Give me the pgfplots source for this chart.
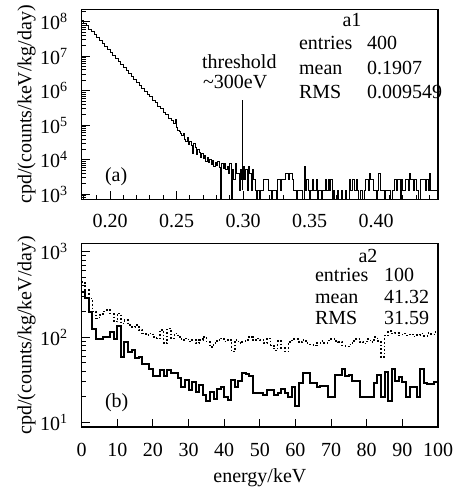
\documentclass[border=0pt]{standalone}
\usepackage{fontspec}
\setmainfont{Liberation Serif}
\usepackage{pgfplots}
\usepackage{pgfplotstable}
\pgfplotsset{compat=1.18}

\pgfplotstableread{
x y
0.178 1.12e8
0.180 9.2e7
0.182 7.6e7
0.184 6.1e7
0.186 5.1e7
0.188 4.2e7
0.190 3.4e7
0.192 2.85e7
0.194 2.3e7
0.196 1.9e7
0.198 1.55e7
0.200 1.26e7
0.202 1.05e7
0.204 8.5e6
0.206 7.1e6
0.208 5.7e6
0.210 4.8e6
0.212 3.85e6
0.214 3.2e6
0.216 2.6e6
0.218 2.15e6
0.220 1.75e6
0.222 1.45e6
0.224 1.17e6
0.226 9.8e5
0.228 7.9e5
0.230 6.6e5
0.232 5.3e5
0.234 4.5e5
0.236 3.6e5
0.238 3.0e5
0.240 2.4e5
0.242 2.0e5
0.244 1.6e5
0.246 1.35e5
0.248 1.15e5
0.249 1.5e5
0.250 8.5e4
0.251 7.2e4
0.252 6.5e4
0.253 5.6e4
0.254 5.0e4
0.255 5.8e4
0.256 4.0e4
0.257 3.4e4
0.258 4.5e4
0.259 2.8e4
0.260 3.3e4
0.261 2.6e4
0.262 1.5e4
0.263 3.0e4
0.264 2.2e4
0.265 1.4e4
0.266 2.0e4
0.267 1.6e4
0.268 1.2e4
0.269 1.5e4
0.270 1.1e4
0.271 1.3e4
0.272 9000
0.273 1.2e4
0.274 8500
0.275 1.0e4
0.276 7500
0.277 9500
0.278 6500
0.279 8500
0.280 7000
0.281 9000
0.282 6000
0.283 1
0.284 8000
0.285 5500
0.286 7800
0.287 5200
0.288 6500
0.289 3900
0.290 7800
0.291 1
0.292 5200
0.293 2600
0.294 7800
0.295 3900
0.296 3900
0.297 1300
0.298 5200
0.299 2600
0.300 6500
0.301 2600
0.302 5200
0.303 1300
0.304 6500
0.305 3900
0.306 1300
0.307 5200
0.308 2600
0.309 1300
0.310 1
0.311 1300
0.312 1
0.313 1300
0.314 1300
0.315 2600
0.316 2600
0.317 2600
0.318 2600
0.319 1300
0.320 1300
0.321 1
0.322 1300
0.323 1300
0.324 1300
0.325 1
0.326 2600
0.327 2600
0.328 1300
0.329 2600
0.330 2600
0.331 2600
0.332 3900
0.333 3900
0.334 2600
0.335 3900
0.336 3900
0.337 2600
0.338 1300
0.339 1300
0.340 1
0.341 1300
0.342 1300
0.343 1300
0.344 1300
0.345 1
0.346 6500
0.347 1300
0.348 2600
0.349 1300
0.350 1
0.351 1300
0.352 2600
0.353 1300
0.354 1300
0.355 2600
0.356 1
0.357 1300
0.358 1300
0.359 1
0.360 1300
0.361 1300
0.362 2600
0.363 1300
0.364 2600
0.365 1300
0.366 2600
0.367 1
0.368 1300
0.369 1
0.370 1
0.371 1300
0.372 1
0.373 1
0.374 1300
0.375 1
0.376 1
0.377 1300
0.378 1
0.379 1
0.380 2600
0.381 1300
0.382 2600
0.383 2600
0.384 1300
0.385 2600
0.386 1300
0.387 1
0.388 1300
0.389 1300
0.390 1
0.391 1300
0.392 2600
0.393 2600
0.394 1300
0.395 3900
0.396 2600
0.397 2600
0.398 1300
0.399 1300
0.400 1
0.401 1300
0.402 3900
0.403 1300
0.404 1300
0.405 1300
0.406 1
0.407 1300
0.408 1300
0.409 1300
0.410 1300
0.411 1
0.412 1300
0.413 1300
0.414 2600
0.415 1300
0.416 2600
0.417 2600
0.418 1
0.419 2600
0.420 1300
0.421 1300
0.422 2600
0.423 2600
0.424 1300
0.425 3900
0.426 2600
0.427 2600
0.428 1300
0.429 2600
0.430 1300
0.431 1300
0.432 1
0.433 2600
0.434 2600
0.435 2600
0.436 2600
0.437 1300
0.438 2600
0.439 1300
0.440 3900
0.441 1300
0.442 1300
0.443 1300
0.444 1300
0.4465 1300
}\topdata

\pgfplotstableread{
x y
0 340
1 285
2 200
3 126
4 95
5 95
6 100
7 100
8 115
9 96
10 135
11 59
12 89
13 68
14 71
15 57
16 59
17 49
18 48
19 43
20 35
21 35
22 41
23 35
24 41
25 38
26 38
27 33
28 26
29 32
30 24
31 30
32 23
33 27.5
34 21
35 18
36 23
37 19
38 25
39 26
40 20
41 18.5
42 32
43 26
44 31
45 38
46 37
47 35
48 22
49 22
50 22
51 21
52 24
53 24
54 21
55 22
56 25
57 22
58 20
59 26
60 15.5
61 29
62 38
63 38
64 29
65 29
66 26
67 27
68 27
69 20
70 20
71 36
72 36
73 43
74 35
75 36
76 31
77 31
78 20
79 20
80 20
81 20
82 29
83 36
84 20
85 39
86 18
87 43
88 31
89 34
90 30
91 20
92 26
93 26
94 20
95 43
96 29
97 28
98 28
99 30
100 30
}\solid

\pgfplotstableread{
x y
0 440
1 355
2 285
3 200
4 166
5 183
6 200
7 207
8 190
9 152
10 190
11 145
12 158
13 139
14 132
15 139
16 122
17 111
18 106
19 111
20 101
21 97
22 122
23 85
24 127
25 97
26 111
27 101
28 93
29 97
30 89
31 93
32 85
33 93
34 101
35 89
36 77
37 85
38 93
39 97
40 89
41 93
42 68
43 93
44 85
45 89
46 93
47 101
48 93
49 97
50 93
51 85
52 97
53 80
54 70
55 90
56 75
57 68
58 88
59 95
60 95
61 88
62 93
63 85
64 82
65 80
66 85
67 90
68 86
69 92
70 96
71 90
72 88
73 80
74 78
75 82
76 90
77 95
78 88
79 84
80 95
81 88
82 100
83 90
84 59
85 105
86 118
87 110
88 112
89 105
90 110
91 105
92 108
93 102
94 106
95 110
96 104
97 112
98 108
99 115
100 115
}\dotted

\begin{document}
\begin{tikzpicture}
\path[use as bounding box] (0pt,0pt) rectangle (227pt,245.5pt);
\pgfplotsset{
  rootstyle/.style={
    scale only axis, width=178.15pt,
    tick pos=left, tick align=inside,
    major tick length=4pt, minor tick length=2.2pt,
    axis line style={line width=0.7pt},
    tick style={black, line width=0.5pt},
    ylabel style={at={(axis description cs:-0.155,0.5)}, anchor=center},
    yticklabel style={xshift=-3.3pt},
  }
}
\begin{axis}[rootstyle, at={(40.85pt,145.75pt)}, anchor=south west, height=95.1pt,
  xmin=0.1787, xmax=0.4465, ymode=log, ymin=706, ymax=2.3e8,
  xtick={0.20,0.25,0.30,0.35,0.40}, xticklabels={0.20,0.25,0.30,0.35,0.40},
  minor xtick={0.18,0.19,0.21,0.22,0.23,0.24,0.26,0.27,0.28,0.29,0.31,0.32,0.33,0.34,0.36,0.37,0.38,0.39,0.41,0.42,0.43,0.44},
  ytick={1e3,1e4,1e5,1e6,1e7,1e8},
  yticklabels={10\textsuperscript{3},10\textsuperscript{4},10\textsuperscript{5},10\textsuperscript{6},10\textsuperscript{7},10\textsuperscript{8}},
  minor ytick={8e2,9e2,2e3,3e3,4e3,5e3,6e3,7e3,8e3,9e3,2e4,3e4,4e4,5e4,6e4,7e4,8e4,9e4,2e5,3e5,4e5,5e5,6e5,7e5,8e5,9e5,2e6,3e6,4e6,5e6,6e6,7e6,8e6,9e6,2e7,3e7,4e7,5e7,6e7,7e7,8e7,9e7,2e8},
  xticklabel style={yshift=-3.6pt},
  ylabel={cpd/(counts/keV/kg/day)},
]
\addplot[const plot mark left, black, line width=0.5pt] table {\topdata};
\addplot[black, line width=0.6pt] coordinates {(0.2995,1300) (0.2995,5.4e5)};
\end{axis}
\begin{axis}[rootstyle, at={(40.85pt,32pt)}, anchor=south west, height=91.75pt,
  xmin=0, xmax=100, ymode=log, ymin=8.9, ymax=1250,
  xtick={0,10,20,30,40,50,60,70,80,90,100}, xticklabels={0,10,20,30,40,50,60,70,80,90,100},
  ytick={1e1,1e2,1e3}, yticklabels={10\textsuperscript{1},10\textsuperscript{2},10\textsuperscript{3}},
  minor ytick={9,20,30,40,50,60,70,80,90,200,300,400,500,600,700,800,900},
  xticklabel style={yshift=-4.5pt},
  ylabel={cpd/(counts/kg/keV/day)},
  xlabel={energy/keV},
  xlabel style={at={(axis description cs:0.5,-0.30)}, anchor=base},
]
\addplot[const plot mark left, black, densely dotted, line width=0.8pt] table {\dotted};
\addplot[const plot mark left, black, line width=1pt] table {\solid};
\end{axis}
% annotations, top panel
\node[anchor=base] at (176pt,232pt) {a1};
\node[anchor=base west] at (146pt,220.5pt) {entries};
\node[anchor=base west] at (180pt,220.5pt) {400};
\node[anchor=base west] at (146pt,208pt) {mean};
\node[anchor=base west] at (180pt,208pt) {0.1907};
\node[anchor=base west] at (146pt,196pt) {RMS};
\node[anchor=base west] at (180pt,196pt) {0.009549};
\node[anchor=base west] at (97.5pt,211pt) {threshold};
\node[anchor=base west] at (98pt,201pt) {\textasciitilde300eV};
\node[anchor=base west] at (49pt,154.5pt) {(a)};
% annotations, bottom panel
\node[anchor=base] at (184pt,114pt) {a2};
\node[anchor=base west] at (154pt,104.5pt) {entries};
\node[anchor=base west] at (188.5pt,104.5pt) {100};
\node[anchor=base west] at (154pt,93.5pt) {mean};
\node[anchor=base west] at (188.5pt,93.5pt) {41.32};
\node[anchor=base west] at (154pt,83pt) {RMS};
\node[anchor=base west] at (188.5pt,83pt) {31.59};
\node[anchor=base west] at (49pt,41.5pt) {(b)};
\end{tikzpicture}
\end{document}
